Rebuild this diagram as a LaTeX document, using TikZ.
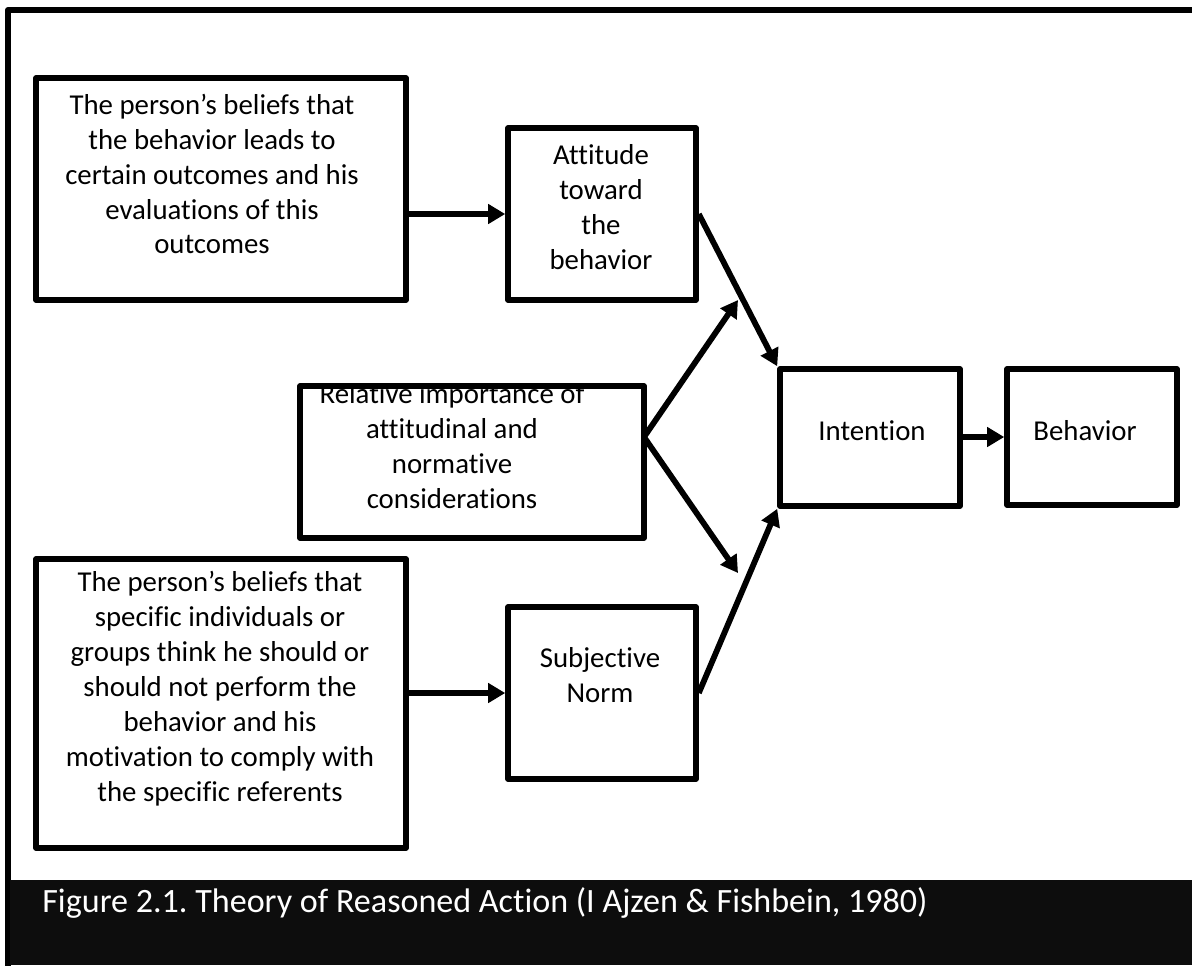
\documentclass[tikz,border=0pt]{standalone}
\usepackage{fontspec}
\setmainfont{Carlito}[RawFeature={-liga}]
\usetikzlibrary{arrows.meta}
\frenchspacing

\tikzset{
  box/.style={draw, line width=3.2pt, rectangle, inner sep=0pt},
  txt/.style={align=center, inner sep=0pt, font=\fontsize{16.4}{19.9}\selectfont},
  arr/.style={->, line width=3.3pt},
}

\begin{document}
\begin{tikzpicture}[x=0.02cm, y=-0.02cm, line join=round, >={Triangle[length=0.34cm,width=0.38cm]}]
	\useasboundingbox (0,0) rectangle (1192,965);
	\clip (0,0) rectangle (1192,965);
	% frame and caption band
	\draw[line width=3.5pt] (8,10) rectangle (1260,1020);
	\fill[black!95] (10,880) rectangle (1192,965);
	\node[anchor=base west, text=white, inner sep=0pt, font=\fontsize{19.4}{22}\selectfont] (caption) at (42,912) {Figure 2.1. Theory of Reasoned Action (I Ajzen \& Fishbein, 1980)};
	% boxes
	\node[box, minimum width=7.4cm, minimum height=4.44cm] (beliefs) at (221,189) {};
	\node[box, minimum width=3.76cm, minimum height=3.44cm] (attitude) at (602,214) {};
	\node[box, minimum width=6.88cm, minimum height=3.04cm] (relative) at (472,462) {};
	\node[box, minimum width=3.6cm, minimum height=2.74cm] (intention) at (870,437.5) {};
	\node[box, minimum width=3.4cm, minimum height=2.72cm] (behavior) at (1092,437) {};
	\node[box, minimum width=7.4cm, minimum height=5.78cm] (normbeliefs) at (221,703.5) {};
	\node[box, minimum width=3.76cm, minimum height=3.44cm] (subjnorm) at (602,693) {};
	% texts
	\node[txt] (tbeliefs) at (212,174) {The person’s beliefs that\\the behavior leads to\\certain outcomes and his\\evaluations of this\\outcomes};
	\node[txt] (tattitude) at (601,207) {Attitude\\toward\\the\\behavior};
	\begin{scope}
		\clip ([shift={(1.7pt,-1.7pt)}]relative.north west) rectangle ([shift={(-1.7pt,1.7pt)}]relative.south east);
		\node[txt] (trelative) at (452,446) {Relative importance of\\attitudinal and\\normative\\considerations};
	\end{scope}
	\node[txt] (tintention) at (872,431) {Intention};
	\node[txt] (tbehavior) at (1085,431) {Behavior};
	\node[txt] (tnormbeliefs) at (220,689) {The person’s beliefs that\\specific individuals or\\groups think he should or\\should not perform the\\behavior and his\\motivation to comply with\\the specific referents};
	\node[txt] (tsubjnorm) at (600,675) {Subjective\\Norm};
	% connectors
	\coordinate (relout) at (644,437);
	\coordinate (upper) at (738,300);
	\coordinate (lower) at (738,573);
	\draw[arr] (beliefs.east |- attitude) -- (attitude.west);
	\draw[arr] (normbeliefs.east |- subjnorm) -- (subjnorm.west);
	\draw[arr] (attitude.east) -- (intention.north west);
	\draw[arr] (subjnorm.east) -- (intention.south west);
	\draw[arr] (relout) -- (upper);
	\draw[arr] (relout) -- (lower);
	\draw[arr] (intention.east |- behavior) -- (behavior.west);
\end{tikzpicture}
\end{document}
